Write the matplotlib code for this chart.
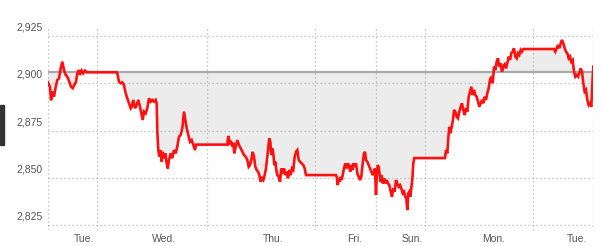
import matplotlib

matplotlib.use("Agg")
import matplotlib.pyplot as plt
import matplotlib.transforms as mtransforms
from matplotlib.patches import Rectangle

# time index (session-compressed), price readings
t = [
    46.7, 48.3, 50, 51, 52.7, 54, 55.7, 57.3, 59, 60.7, 62.3, 64, 65.7, 67.3, 69.3, 71, 72.7, 74.3, 76, 77.3,
    79, 80, 81.7, 83.3, 85, 86.7, 116.7, 117.3, 119, 120.7, 122.3, 124, 125.7, 127.3, 129, 130.7, 131.7, 133.3,
    135, 136.7, 138.3, 140, 141.7, 142.7, 144, 145.7, 147.3, 149, 150.7, 152.3, 154, 155.7, 156.7, 157.3, 158.3,
    159.3, 160.7, 161.7, 162.7, 164, 165.3, 166.7, 167.7, 169, 170.7, 172.3, 174, 175.7, 177.3, 179, 180.7, 182.3,
    184, 185.3, 186.7, 188.3, 190, 191.7, 193.3, 195, 196, 227.3, 228.3, 229.3, 230.7, 232, 233.3, 234.3, 235.7,
    237.3, 239, 240.7, 242.3, 244, 245.7, 247.3, 248.7, 250, 251.3, 252.7, 254, 255.3, 256.7, 258, 259.3, 260.7,
    262, 263.3, 264.7, 266, 267.3, 268.3, 269.3, 270.3, 271.3, 272.3, 273.3, 274.3, 275.3, 276.3, 277.3, 278.7,
    280, 281.3, 282.7, 284, 285.3, 286.7, 288, 289.3, 290.7, 292, 293.3, 294.7, 296, 297.3, 298.7, 300, 301.7,
    303.3, 304.7, 306, 336, 336.7, 337.7, 338.7, 339.7, 340.7, 341.7, 342.7, 344, 345.3, 346.7, 348, 349.3,
    350.3, 351.3, 352.3, 353.3, 354.7, 356, 357.3, 358.7, 360, 361.3, 362.7, 364, 365, 366, 367.3, 368.7, 370,
    371.3, 372.7, 374, 375, 376, 376.7, 377.7, 378.7, 379.3, 380.7, 381.7, 382.7, 384, 385.3, 386.7, 388, 389.3,
    390.7, 392, 393.3, 394.7, 396, 397.3, 398.7, 400, 401.3, 402.7, 404, 405.3, 406.3, 407.3, 408.3, 409.3,
    410.3, 411.3, 412.3, 413.3, 414.3, 445, 446, 447.3, 448.3, 449.3, 450.3, 451.7, 453, 454, 455.3, 456.7, 458,
    459.3, 460.7, 462, 463.3, 464.7, 466, 467.3, 468.7, 470, 471.3, 472.7, 474, 475.3, 476.7, 478, 479.3, 480.7,
    482, 483.3, 484.7, 486, 487.3, 488.7, 490, 491.3, 492.7, 494, 495.3, 496.7, 498, 499.3, 500.7, 502, 503.3,
    504.7, 506, 507.3, 508.7, 510, 511.3, 512.7, 514, 515.3, 516.7, 518, 519.3, 520.7, 522, 523.3, 554, 555.3,
    556.7, 558, 559.3, 560.7, 562, 563.3, 564.7, 566, 567.3, 568.7, 570, 571.3, 572.7, 574, 575.3, 576.7, 578,
    579.3, 580.7, 582, 583.3, 584.7, 586, 587.3, 588.7, 590, 591.3, 592.3, 593.3,
]
price = [
    2901.7, 2900, 2898, 2891, 2895.6, 2893, 2898, 2901.7, 2902.6, 2908, 2911.4, 2907, 2904.4, 2903.5, 2900.8,
    2898.2, 2897.4, 2899, 2900.8, 2905.3, 2907, 2904.4, 2906.7, 2905.3, 2906.7, 2905.8, 2905.8, 2905.3, 2900.8,
    2900, 2900.5, 2899, 2894.7, 2892, 2889.4, 2886.8, 2887.6, 2891.2, 2886.8, 2888.5, 2891.2, 2887.6, 2883.2,
    2880.6, 2885, 2884.1, 2886.8, 2892, 2890.3, 2891.2, 2890.3, 2891.2, 2889.4, 2874.4, 2864.7, 2861.2, 2864.7,
    2858.6, 2863.8, 2860.4, 2863, 2857.7, 2855, 2859.5, 2863, 2860.4, 2864.7, 2863, 2866.5, 2871.8, 2872.7,
    2876.2, 2885, 2880.6, 2876.2, 2872.7, 2869.1, 2870, 2867.4, 2864.7, 2867.6, 2867.6, 2872.2, 2868.3, 2869.1,
    2867.4, 2868.6, 2863, 2866.5, 2870, 2867.4, 2865.6, 2863.8, 2862.1, 2861.2, 2859.5, 2855.9, 2856.8, 2859.5,
    2863.8, 2861.2, 2855.9, 2854.2, 2853.3, 2851.5, 2848, 2849.8, 2848.9, 2851.5, 2855, 2861.2, 2866.5, 2870.9,
    2869.1, 2862.1, 2865.6, 2863, 2856.8, 2858.6, 2854.2, 2851.5, 2850.6, 2848, 2855, 2853.3, 2855, 2851.5,
    2853.3, 2849.8, 2854.2, 2851.5, 2855, 2854.2, 2861.2, 2863.8, 2864.7, 2859.5, 2858.6, 2857.7, 2856.8, 2855,
    2851.5, 2851.5, 2850.6, 2846.2, 2849.8, 2848, 2850.6, 2848.9, 2851.5, 2855, 2857.7, 2855, 2857.7, 2855.9,
    2853.3, 2856.8, 2854.2, 2857.7, 2855.9, 2857.7, 2852.4, 2850.6, 2848.9, 2850.6, 2857.7, 2863, 2863.8,
    2859.5, 2858.6, 2856.8, 2855, 2853.3, 2851.5, 2853.3, 2855, 2841, 2850.6, 2856.8, 2855.9, 2853.3, 2848,
    2851.5, 2847.1, 2849.8, 2847.1, 2848.9, 2847.1, 2846.2, 2842.7, 2840.1, 2844.5, 2842.7, 2848.9, 2847.1,
    2845.4, 2846.2, 2844.5, 2841.9, 2842.7, 2840.1, 2839.2, 2833, 2841.9, 2842.7, 2840.1, 2844.5, 2848.9,
    2857.7, 2860.5, 2860.5, 2864.7, 2863, 2870.9, 2877, 2873.6, 2877, 2880.6, 2885.9, 2885, 2882.3, 2881.5,
    2885, 2887.6, 2889.4, 2885.9, 2883.2, 2886.8, 2885, 2892.9, 2895.6, 2898.2, 2893.8, 2896.5, 2893.8, 2892.9,
    2890.3, 2887.6, 2889.4, 2891.2, 2889.4, 2892.9, 2891.2, 2894.7, 2897.4, 2901.8, 2903.5, 2900, 2908.8, 2907,
    2911.4, 2913.2, 2908.8, 2910.6, 2906.1, 2908.8, 2910, 2907.9, 2910.6, 2914.1, 2912.3, 2915.9, 2916.7,
    2918.5, 2914.1, 2913.2, 2915.9, 2915, 2917.6, 2916.7, 2918.1, 2918.1, 2916.7, 2918.5, 2920.2, 2918.5,
    2921.1, 2922.9, 2921.1, 2918.5, 2916.7, 2915.9, 2913.2, 2914.1, 2911.4, 2912.3, 2906.1, 2903.5, 2904.4,
    2903.5, 2905.3, 2907.9, 2906.1, 2900, 2895.6, 2896.5, 2891.2, 2888.5, 2889.4, 2887.6, 2899.1, 2908.8,
]
prev_close = 2906
day_bounds = [96.7, 206.7, 315, 375.7, 425, 533]
day_labels = ["Tue.", "Wed.", "Thu.", "Fri.", "Sun.", "Mon.", "Tue."]
day_label_pos = [84, 164, 272.7, 355, 412, 494, 576.7]
y_ticks = [2825, 2850, 2875, 2900, 2925]

plt.rcParams["font.family"] = ["Liberation Sans", "DejaVu Sans"]

fig = plt.figure(figsize=(6.02, 2.46), dpi=100)
ax = fig.add_axes([47.7 / 602, 1 - 230 / 246, (593.3 - 47.7) / 602, (230 - 28) / 246])
x_min, x_max = 47.7, 593.3
ax.set_xlim(x_min, x_max)
ax.set_ylim(2822.5, 2929.2)

grid_kw = dict(color="#b5b5b5", linewidth=0.9, linestyle=(0, (1, 2.2)), zorder=2)
ax.fill_between(t, price, prev_close, color="#ececec", linewidth=0, zorder=1)
for v in y_ticks:
    ax.axhline(v, **grid_kw)
for b in [x_min] + day_bounds + [x_max]:
    ax.axvline(b, **grid_kw)
ax.axhline(prev_close, color="#a9a9a9", linewidth=1.6, zorder=3)
ax.plot(t, price, color="#ff1111", linewidth=1.9, solid_joinstyle="miter", zorder=4)

for side in ax.spines.values():
    side.set_visible(False)
ax.set_yticks([])
ax.set_xticks(day_label_pos)
ax.set_xticklabels(day_labels, fontsize=7.5, color="#555555")
ax.tick_params(axis="x", length=0, pad=3)

lbl_trans = mtransforms.blended_transform_factory(ax.transAxes, ax.transData)
lbl_trans = lbl_trans + mtransforms.ScaledTranslation(0, 2.5 / 72, fig.dpi_scale_trans)
for v in y_ticks:
    ax.text(-0.0085, v, f"{v:,}", transform=lbl_trans, ha="right", va="bottom",
            fontsize=7.5, color="#555555")

# dark tab on left edge of the original screenshot
fig.patches.append(Rectangle((0, 1 - 145 / 246), 4 / 602, 40 / 246,
                             transform=fig.transFigure, color="#333333"))

fig.savefig("out.png", dpi=100)
